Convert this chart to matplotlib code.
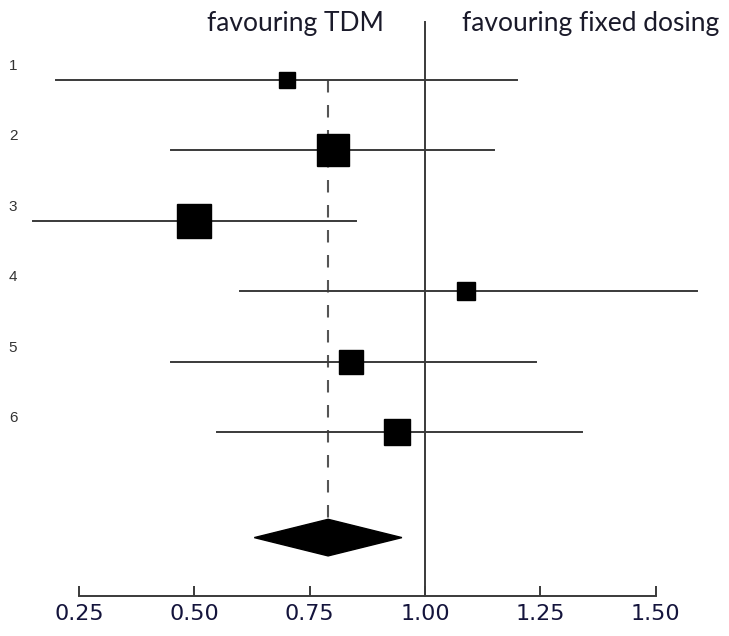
import matplotlib.pyplot as plt
import numpy as np

# study data
studies = ['1', '2', '3', '4', '5', '6']
estimate = [0.70, 0.80, 0.50, 1.09, 0.84, 0.94]
lower = [0.20, 0.45, 0.15, 0.60, 0.45, 0.55]
upper = [1.20, 1.15, 0.85, 1.59, 1.24, 1.34]
weight = [6.2, 26.3, 27.9, 7.0, 15.1, 17.6]  # % weight, sets box size

pooled = 0.79
pooled_lo = 0.63
pooled_hi = 0.95

xticks = [0.25, 0.50, 0.75, 1.00, 1.25, 1.50]
xtick_labels = ['0.25', '0.50', '0.75', '1.00', '1.25', '1.50']

fig = plt.figure(figsize=(7.29, 6.36), dpi=100)
ax = fig.add_axes([0, 0, 1, 1])

px_per_unit = 461.3
row_px = 70.4
x0 = 0.25 - 79 / px_per_unit
ax.set_xlim(x0, x0 + 729 / px_per_unit)
ax.set_ylim((636 - 80) / row_px, -80 / row_px)

rows = np.arange(len(studies))
y_pool = 6.5
y_axis = 7.33

# confidence intervals + boxes
for i in rows:
    ax.plot([lower[i], upper[i]], [i, i], color='#3a3a3a', lw=1.4, zorder=2)
    ms = np.sqrt(weight[i]) * 6.43 * 0.72
    ax.plot(estimate[i], i, marker='s', ms=ms, color='black', zorder=3)
    ax.text(13 / px_per_unit + x0, i - 0.2, studies[i], fontsize=11,
            color='#333333', ha='center', va='center', family='Liberation Sans')

# pooled diamond
h = 0.26
ax.fill([pooled_lo, pooled, pooled_hi, pooled],
        [y_pool, y_pool - h, y_pool, y_pool + h], color='black', zorder=3)

# dashed pooled line and line of no effect
ax.plot([pooled, pooled], [0, y_pool - h], color='#555555', lw=1.5,
        dashes=(6, 6), zorder=1)
ax.plot([1.0, 1.0], [-0.82, y_axis], color='#3a3a3a', lw=1.4, zorder=1)

ax.text(0.72, -0.80, 'favouring TDM', fontsize=19, ha='center', va='center',
        family='Lato', color='#1a1a2a')
ax.text(1.36, -0.80, 'favouring fixed dosing', fontsize=19, ha='center',
        va='center', family='Lato', color='#1a1a2a')

# bottom axis
for s in ['top', 'left', 'right']:
    ax.spines[s].set_visible(False)
ax.spines['bottom'].set_position(('data', y_axis))
ax.spines['bottom'].set_bounds(0.25, 1.50)
ax.spines['bottom'].set_color('#3a3a3a')
ax.spines['bottom'].set_linewidth(1.4)
ax.set_xticks(xticks)
ax.set_xticklabels(xtick_labels, fontsize=16, color='#14143c')
ax.tick_params(axis='x', direction='in', length=7, width=1.4,
               color='#3a3a3a', pad=6)
ax.set_yticks([])

fig.savefig('out.png', dpi=100)
